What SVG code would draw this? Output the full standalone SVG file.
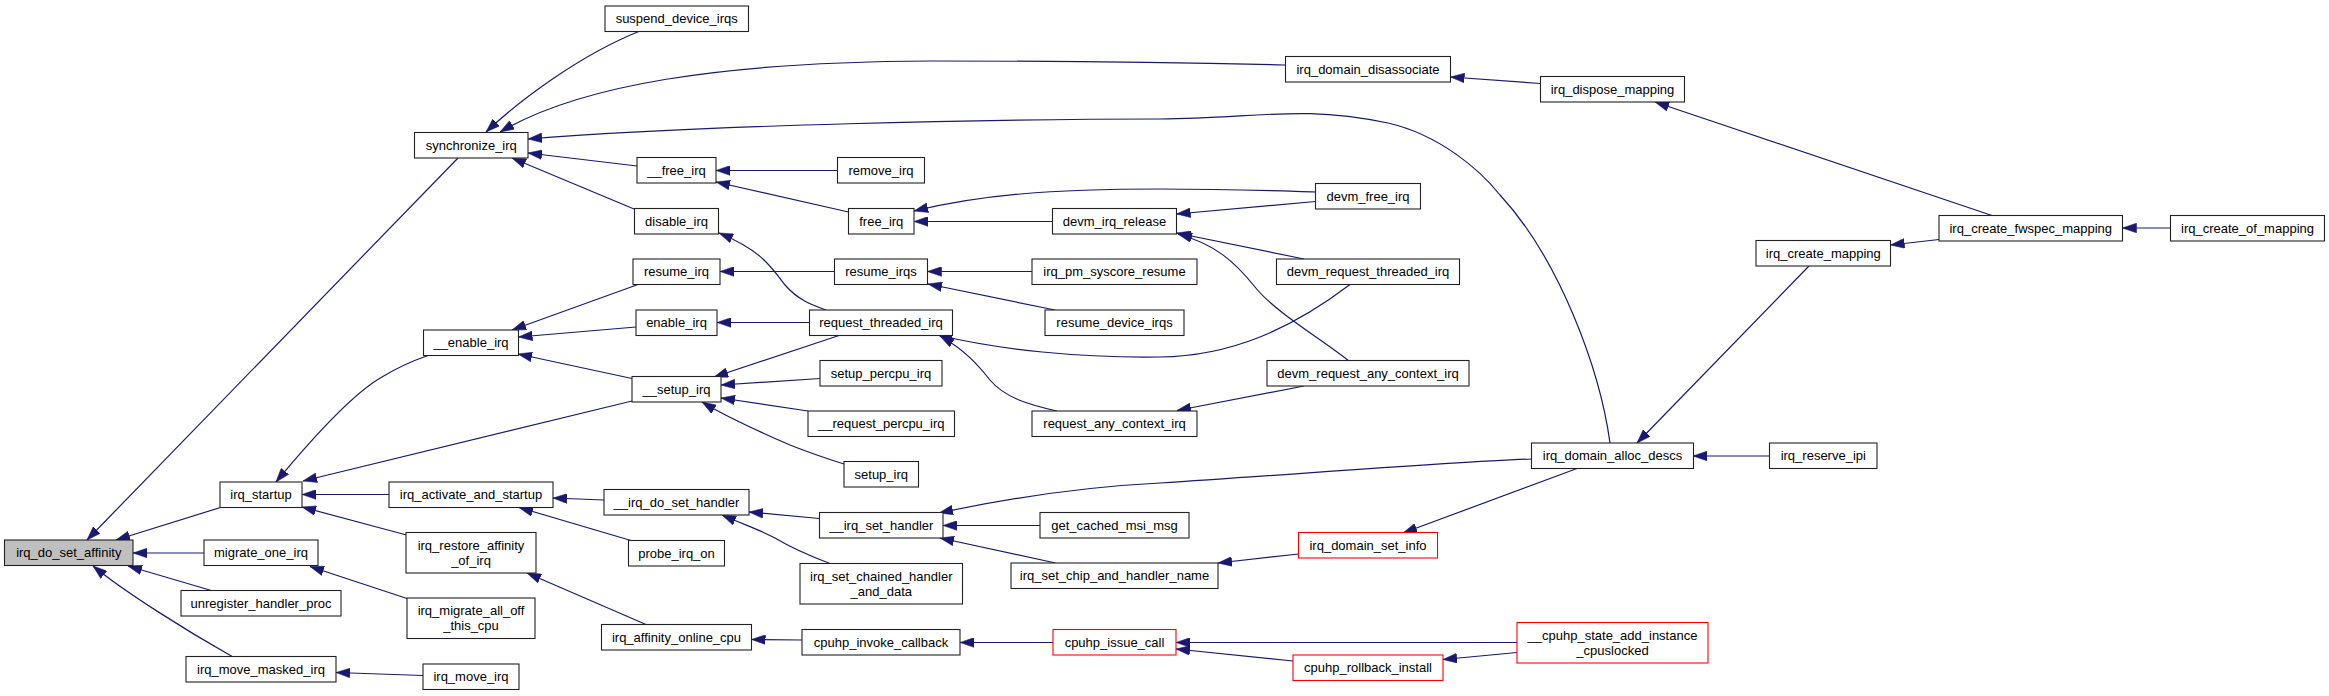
<svg xmlns="http://www.w3.org/2000/svg" width="2329" height="696" viewBox="0 0 2329 696">
<style>
.n rect{fill:#fff;stroke:#222;stroke-width:1.1}
.n.root rect{fill:#bfbfbf}
.n.red rect{stroke:#ff0000}
.n text{font-family:"Liberation Sans",Arial,Helvetica,sans-serif;font-size:13px;fill:#000;text-anchor:middle}
.e path{fill:none;stroke:#191970;stroke-width:1.2;marker-start:url(#ah)}
</style>
<defs>
<marker id="ah" markerUnits="userSpaceOnUse" markerWidth="14" markerHeight="10" viewBox="0 0 13 9" refX="13" refY="4.5" orient="auto-start-reverse">
<path d="M0,0 L13,4.5 L0,9 z" fill="#191970" stroke="#191970" stroke-width="0.5"/>
</marker>
</defs>
<rect width="2329" height="696" fill="#fff"/>
<g id="edges" class="e">
<path d="M87,540 L458,158"/>
<path d="M116,540 L222,507"/>
<path d="M133,553 L204,553"/>
<path d="M128,566 L213,591"/>
<path d="M93,566 C125,592 185,630 233,657"/>
<path d="M486,132 C520,100 580,55 640,31"/>
<path d="M500,132 C580,85 720,62 930,61 C1100,61 1200,63 1285,65"/>
<path d="M528,139 C700,125 1000,119 1160,119 C1260,118 1300,105 1388,123 C1440,135 1480,170 1500,195 C1560,260 1600,370 1610,443"/>
<path d="M528,153 L637,166"/>
<path d="M512,158 L634,209"/>
<path d="M716,170.5 L837.5,170.5"/>
<path d="M716,182 L848.5,212"/>
<path d="M914,211 C980,195 1050,189 1160,189 C1230,189 1280,191 1315.5,192"/>
<path d="M914,221.5 L1052.5,221.5"/>
<path d="M1176.5,214 L1315.5,201.5"/>
<path d="M1176.5,233 L1304,259"/>
<path d="M1178,234 C1215,244 1235,262 1255,287 C1275,312 1320,338 1349,361"/>
<path d="M719,233 C760,250 770,265 785,285 C798,300 812,305 826,310"/>
<path d="M720,271.5 L834.5,271.5"/>
<path d="M927.5,271.5 L1032,271.5"/>
<path d="M928,284 L1055,310"/>
<path d="M717,322.5 L809.5,322.5"/>
<path d="M512,330 L638,284.5"/>
<path d="M518.5,337 L636,327"/>
<path d="M518,354 L632,378.5"/>
<path d="M276,482 C305,447 350,395 382,377 C400,366 415,360 428,355.5"/>
<path d="M303,481 L632,401"/>
<path d="M302,494.5 L389,494.5"/>
<path d="M302,507 L406.5,535"/>
<path d="M714,377 L839,335.5"/>
<path d="M721,385 L820,378.5"/>
<path d="M721,398 L808,411"/>
<path d="M702,402 C725,416 760,432 790,445 C810,453 828,459 844,464"/>
<path d="M938,335 C1000,350 1080,358 1160,357 C1230,356 1290,330 1350,284.5"/>
<path d="M940,336 C965,350 978,365 990,380 C1005,398 1030,405 1057,411"/>
<path d="M1177,410.5 L1304,386"/>
<path d="M1450.5,77 L1540.5,83.5"/>
<path d="M1655,102 L1992,215.5"/>
<path d="M2122.5,228 L2170.5,228"/>
<path d="M1890.5,245 L1939,239.5"/>
<path d="M1637,443 L1809,266"/>
<path d="M1693,456 L1769.5,456"/>
<path d="M939,513 C1000,500 1080,487 1160,483 C1300,474 1450,462 1531.5,459"/>
<path d="M1403,533 L1577,468.5"/>
<path d="M1218,563 L1298.5,554"/>
<path d="M943,525.5 L1040,525.5"/>
<path d="M940,538 L1055.5,563"/>
<path d="M749,512 L819.5,518.5"/>
<path d="M722,515 C745,525 760,530 775,538 C795,550 810,556 830,563.5"/>
<path d="M553,498 L604,500"/>
<path d="M519,507.5 L631,540.5"/>
<path d="M527,573 L646,624.5"/>
<path d="M751.5,639.5 L802,640"/>
<path d="M960,642.5 L1053,642.5"/>
<path d="M1176,642.5 L1517,642.5"/>
<path d="M1176,649 L1293,661"/>
<path d="M1443,659.5 L1517,652.5"/>
<path d="M310,566.5 L407,598.5"/>
<path d="M336,672.5 L423,675.5"/>
</g>
<g id="irq_do_set_affinity" class="n root"><rect x="4.5" y="540" width="128.5" height="25.5"/><text x="68.8" y="557.3">irq_do_set_affinity</text></g>
<g id="synchronize_irq" class="n"><rect x="414.5" y="132.5" width="113.5" height="25.5"/><text x="471.3" y="149.8">synchronize_irq</text></g>
<g id="__enable_irq" class="n"><rect x="423.5" y="330" width="95" height="25.5"/><text x="471" y="347.3">__enable_irq</text></g>
<g id="irq_startup" class="n"><rect x="220" y="482" width="82" height="25.5"/><text x="261" y="499.3">irq_startup</text></g>
<g id="migrate_one_irq" class="n"><rect x="204" y="540" width="114" height="25.5"/><text x="261" y="557.3">migrate_one_irq</text></g>
<g id="unregister_handler_proc" class="n"><rect x="181" y="590.5" width="160" height="25.5"/><text x="261" y="607.8">unregister_handler_proc</text></g>
<g id="irq_move_masked_irq" class="n"><rect x="186" y="656.5" width="150" height="25.5"/><text x="261" y="673.8">irq_move_masked_irq</text></g>
<g id="irq_activate_and_startup" class="n"><rect x="389" y="482" width="164" height="25.5"/><text x="471" y="499.3">irq_activate_and_startup</text></g>
<g id="irq_restore_affinity_of_irq" class="n"><rect x="406" y="532.5" width="130" height="40.5"/><text x="471" y="549.5">irq_restore_affinity</text><text x="471" y="564.5">_of_irq</text></g>
<g id="irq_migrate_all_off_this_cpu" class="n"><rect x="407" y="598" width="128" height="40.5"/><text x="471" y="615">irq_migrate_all_off</text><text x="471" y="630">_this_cpu</text></g>
<g id="irq_move_irq" class="n"><rect x="423" y="664" width="96" height="25.5"/><text x="471" y="681.3">irq_move_irq</text></g>
<g id="suspend_device_irqs" class="n"><rect x="605" y="6" width="143.5" height="25.5"/><text x="676.7" y="23.3">suspend_device_irqs</text></g>
<g id="__free_irq" class="n"><rect x="637" y="157.5" width="79" height="25.5"/><text x="676.5" y="174.8">__free_irq</text></g>
<g id="disable_irq" class="n"><rect x="634.5" y="208.5" width="84" height="25.5"/><text x="676.5" y="225.8">disable_irq</text></g>
<g id="resume_irq" class="n"><rect x="633" y="259" width="87" height="25.5"/><text x="676.5" y="276.3">resume_irq</text></g>
<g id="enable_irq" class="n"><rect x="636" y="310" width="81" height="25.5"/><text x="676.5" y="327.3">enable_irq</text></g>
<g id="__setup_irq" class="n"><rect x="632" y="376.5" width="89" height="25.5"/><text x="676.5" y="393.8">__setup_irq</text></g>
<g id="__irq_do_set_handler" class="n"><rect x="604" y="489.5" width="145" height="25.5"/><text x="676.5" y="506.8">__irq_do_set_handler</text></g>
<g id="probe_irq_on" class="n"><rect x="628.5" y="540.5" width="96" height="25.5"/><text x="676.5" y="557.8">probe_irq_on</text></g>
<g id="irq_affinity_online_cpu" class="n"><rect x="601.5" y="624.5" width="150" height="25.5"/><text x="676.5" y="641.8">irq_affinity_online_cpu</text></g>
<g id="remove_irq" class="n"><rect x="837.5" y="157.5" width="87" height="25.5"/><text x="881" y="174.8">remove_irq</text></g>
<g id="free_irq" class="n"><rect x="848.5" y="208.5" width="65.5" height="25.5"/><text x="881.3" y="225.8">free_irq</text></g>
<g id="resume_irqs" class="n"><rect x="834.5" y="259" width="93" height="25.5"/><text x="881" y="276.3">resume_irqs</text></g>
<g id="request_threaded_irq" class="n"><rect x="809.5" y="310" width="143" height="25.5"/><text x="881" y="327.3">request_threaded_irq</text></g>
<g id="setup_percpu_irq" class="n"><rect x="820" y="360.5" width="122" height="25.5"/><text x="881" y="377.8">setup_percpu_irq</text></g>
<g id="__request_percpu_irq" class="n"><rect x="808" y="411" width="146.5" height="25.5"/><text x="881.3" y="428.3">__request_percpu_irq</text></g>
<g id="setup_irq" class="n"><rect x="844" y="461.5" width="74.5" height="25.5"/><text x="881.3" y="478.8">setup_irq</text></g>
<g id="__irq_set_handler" class="n"><rect x="819.5" y="512.5" width="123.5" height="25.5"/><text x="881.3" y="529.8">__irq_set_handler</text></g>
<g id="irq_set_chained_handler_and_data" class="n"><rect x="800" y="563.5" width="162.5" height="40.5"/><text x="881.3" y="580.5">irq_set_chained_handler</text><text x="881.3" y="595.5">_and_data</text></g>
<g id="cpuhp_invoke_callback" class="n"><rect x="802" y="629.5" width="158" height="25.5"/><text x="881" y="646.8">cpuhp_invoke_callback</text></g>
<g id="devm_irq_release" class="n"><rect x="1052.5" y="208.5" width="124" height="25.5"/><text x="1114.5" y="225.8">devm_irq_release</text></g>
<g id="irq_pm_syscore_resume" class="n"><rect x="1032" y="259" width="165" height="25.5"/><text x="1114.5" y="276.3">irq_pm_syscore_resume</text></g>
<g id="resume_device_irqs" class="n"><rect x="1045" y="310" width="139" height="25.5"/><text x="1114.5" y="327.3">resume_device_irqs</text></g>
<g id="request_any_context_irq" class="n"><rect x="1032" y="411" width="165" height="25.5"/><text x="1114.5" y="428.3">request_any_context_irq</text></g>
<g id="get_cached_msi_msg" class="n"><rect x="1040" y="512.5" width="149" height="25.5"/><text x="1114.5" y="529.8">get_cached_msi_msg</text></g>
<g id="irq_set_chip_and_handler_name" class="n"><rect x="1011" y="563" width="207" height="25.5"/><text x="1114.5" y="580.3">irq_set_chip_and_handler_name</text></g>
<g id="cpuhp_issue_call" class="n red"><rect x="1053" y="629.5" width="123" height="25.5"/><text x="1114.5" y="646.8">cpuhp_issue_call</text></g>
<g id="irq_domain_disassociate" class="n"><rect x="1285.5" y="56.5" width="165" height="25.5"/><text x="1368" y="73.8">irq_domain_disassociate</text></g>
<g id="devm_free_irq" class="n"><rect x="1315.5" y="183.5" width="105" height="25.5"/><text x="1368" y="200.8">devm_free_irq</text></g>
<g id="devm_request_threaded_irq" class="n"><rect x="1276.5" y="259" width="183" height="25.5"/><text x="1368" y="276.3">devm_request_threaded_irq</text></g>
<g id="devm_request_any_context_irq" class="n"><rect x="1267" y="360.5" width="202" height="25.5"/><text x="1368" y="377.8">devm_request_any_context_irq</text></g>
<g id="irq_domain_set_info" class="n red"><rect x="1298.5" y="532.5" width="139" height="25.5"/><text x="1368" y="549.8">irq_domain_set_info</text></g>
<g id="cpuhp_rollback_install" class="n red"><rect x="1293" y="655" width="150" height="25.5"/><text x="1368" y="672.3">cpuhp_rollback_install</text></g>
<g id="irq_dispose_mapping" class="n"><rect x="1540.5" y="76.5" width="144" height="25.5"/><text x="1612.5" y="93.8">irq_dispose_mapping</text></g>
<g id="irq_domain_alloc_descs" class="n"><rect x="1531.5" y="443" width="162" height="25.5"/><text x="1612.5" y="460.3">irq_domain_alloc_descs</text></g>
<g id="__cpuhp_state_add_instance_cpuslocked" class="n red"><rect x="1517" y="622.5" width="191" height="40.5"/><text x="1612.5" y="639.5">__cpuhp_state_add_instance</text><text x="1612.5" y="654.5">_cpuslocked</text></g>
<g id="irq_create_mapping" class="n"><rect x="1756" y="240.5" width="134.5" height="25.5"/><text x="1823.3" y="257.8">irq_create_mapping</text></g>
<g id="irq_reserve_ipi" class="n"><rect x="1769.5" y="443" width="107.5" height="25.5"/><text x="1823.3" y="460.3">irq_reserve_ipi</text></g>
<g id="irq_create_fwspec_mapping" class="n"><rect x="1939" y="215.5" width="183.5" height="25.5"/><text x="2030.8" y="232.8">irq_create_fwspec_mapping</text></g>
<g id="irq_create_of_mapping" class="n"><rect x="2170.5" y="215.5" width="154" height="25.5"/><text x="2247.5" y="232.8">irq_create_of_mapping</text></g>
</svg>
